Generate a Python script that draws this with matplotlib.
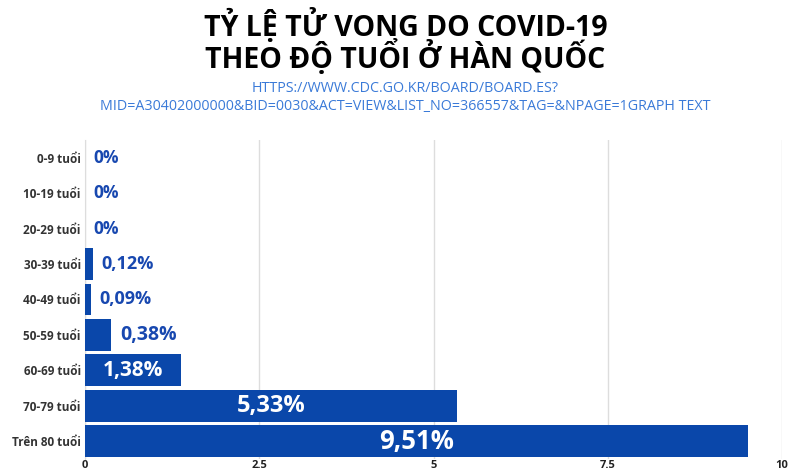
import matplotlib
matplotlib.use("Agg")
import matplotlib.pyplot as plt

categories = ["0-9 tuổi", "10-19 tuổi", "20-29 tuổi", "30-39 tuổi", "40-49 tuổi",
              "50-59 tuổi", "60-69 tuổi", "70-79 tuổi", "Trên 80 tuổi"]
values = [0, 0, 0, 0.12, 0.09, 0.38, 1.38, 5.33, 9.51]
labels = ["0%", "0%", "0%", "0,12%", "0,09%", "0,38%", "1,38%", "5,33%", "9,51%"]
xticks = [0, 2.5, 5, 7.5, 10]
xticklabels = ["0", "2.5", "5", "7.5", "10"]

title_lines = ["TỶ LỆ TỬ VONG DO COVID-19", "THEO ĐỘ TUỔI Ở HÀN QUỐC"]
source_lines = ["HTTPS://WWW.CDC.GO.KR/BOARD/BOARD.ES?",
                "MID=A30402000000&BID=0030&ACT=VIEW&LIST_NO=366557&TAG=&NPAGE=1GRAPH TEXT"]

bar_color = "#0a47aa"
label_blue = "#1848b0"

plt.rcParams['font.family'] = ['Open Sans', 'DejaVu Sans']

fig = plt.figure(figsize=(7.95, 4.75), dpi=100)
ax = fig.add_axes([85/795, 1 - 459/475, (782-85)/795, (459-140)/475])

y = list(range(len(categories)))
ax.barh(y, values, height=0.9, color=bar_color, zorder=3)
ax.set_ylim(len(categories) - 0.5, -0.5)
ax.set_xlim(0, 10)
ax.set_xticks(xticks)
ax.set_xticklabels(xticklabels, fontsize=8, fontweight='bold', color='#222222')
ax.set_yticks(y)
ax.set_yticklabels(categories, fontsize=8.5, fontweight='bold', color='#333333')
ax.tick_params(axis='x', length=0, pad=1)
ax.tick_params(axis='y', length=0, pad=3)
ax.grid(axis='x', color='#dddddd', linewidth=1, zorder=0)
for s in ['top', 'right', 'bottom']:
    ax.spines[s].set_visible(False)
ax.spines['left'].set_color('#dddddd')

sizes = [12.5, 12.5, 12.5, 13, 13, 14, 15, 17, 18.5]
for i, (v, lab) in enumerate(zip(values, labels)):
    if v >= 1:
        ax.text(v / 2, i, lab, ha='center', va='center', color='white',
                fontsize=sizes[i], fontweight='bold', zorder=4)
    else:
        ax.annotate(lab, (v, i), xytext=(6, 0), textcoords='offset points',
                    ha='left', va='center', color=label_blue,
                    fontsize=sizes[i], fontweight='bold', zorder=4)

fig.text(0.51, 1 - 25/475, title_lines[0], ha='center', va='center',
         fontsize=20.5, fontweight='bold', color='black')
fig.text(0.51, 1 - 57/475, title_lines[1], ha='center', va='center',
         fontsize=20.5, fontweight='bold', color='black')
fig.text(0.51, 1 - 88/475, source_lines[0], ha='center', va='center',
         fontsize=10.3, color='#3a7ad8')
fig.text(0.51, 1 - 107/475, source_lines[1], ha='center', va='center',
         fontsize=10.3, color='#3a7ad8')

fig.savefig("out.png", dpi=100)
